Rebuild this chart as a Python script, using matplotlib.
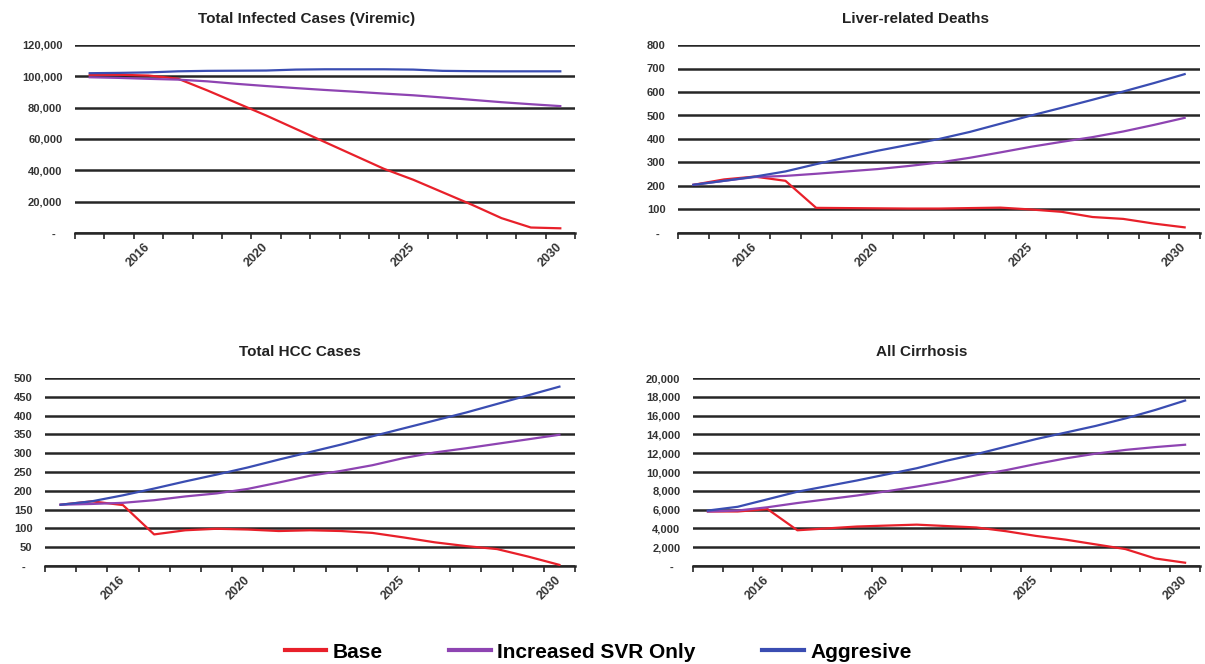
import matplotlib
matplotlib.use('Agg')
import matplotlib.pyplot as plt
from matplotlib.ticker import FuncFormatter, FixedLocator
import numpy as np

plt.rcParams['font.family'] = ['Liberation Sans', 'DejaVu Sans']

years = [2014, 2015, 2016, 2017, 2018, 2019, 2020, 2021, 2022, 2023, 2024, 2025, 2026, 2027, 2028, 2029, 2030]
year_labels = [2016, 2020, 2025, 2030]
series_names = ['Base', 'Increased SVR Only', 'Aggresive']

# Total Infected Cases (Viremic)
base_inf = [101000, 101000, 100500, 98500, 91000, 83000, 75000, 66500, 58000, 49500, 41000, 34000, 26000, 18000, 9500, 3500, 3000]
svr_inf = [99400, 99000, 98400, 97900, 96800, 95200, 93800, 92500, 91300, 90200, 89000, 87900, 86500, 85000, 83500, 82200, 81000]
agg_inf = [102000, 102200, 102500, 103200, 103500, 103600, 103700, 104300, 104500, 104500, 104500, 104300, 103500, 103300, 103200, 103200, 103200]

# Liver-related Deaths
base_ld = [205, 228, 240, 222, 107, 106, 105, 104, 104, 106, 108, 100, 90, 68, 60, 40, 24]
svr_ld = [205, 222, 238, 243, 252, 262, 272, 285, 300, 320, 343, 367, 388, 408, 432, 460, 490]
agg_ld = [205, 222, 240, 262, 293, 322, 350, 375, 400, 430, 465, 500, 533, 567, 602, 638, 676]

# Total HCC Cases
base_hcc = [163, 172, 162, 84, 95, 99, 97, 93, 95, 93, 88, 76, 63, 53, 45, 25, 3]
svr_hcc = [163, 165, 168, 175, 185, 193, 205, 222, 240, 253, 268, 287, 302, 313, 325, 337, 349]
agg_hcc = [163, 172, 188, 206, 225, 243, 262, 283, 303, 323, 345, 366, 387, 408, 431, 454, 477]

# All Cirrhosis
base_cir = [5800, 5800, 6050, 3800, 4000, 4200, 4300, 4400, 4250, 4100, 3700, 3200, 2800, 2300, 1800, 800, 350]
svr_cir = [5800, 5900, 6250, 6700, 7100, 7500, 7950, 8450, 9000, 9650, 10200, 10850, 11450, 11950, 12350, 12650, 12900]
agg_cir = [5900, 6300, 7100, 7900, 8500, 9100, 9750, 10400, 11200, 11900, 12700, 13500, 14200, 14900, 15700, 16600, 17600]

colors = ['#e8202a', '#8e44b2', '#3a4db2']

W, H = 1205, 664
fig = plt.figure(figsize=(W / 100, H / 100), dpi=100)

def box(l, r, t, b):
    return [l / W, 1 - b / H, (r - l) / W, (b - t) / H]

panels = [
    ('Total Infected Cases (Viremic)', box(75, 575, 45, 233), 120000, 20000, (307, 19), [base_inf, svr_inf, agg_inf]),
    ('Liver-related Deaths', box(678, 1200, 45, 233), 800, 100, (915, 19), [base_ld, svr_ld, agg_ld]),
    ('Total HCC Cases', box(45, 575, 378, 566), 500, 50, (300, 352), [base_hcc, svr_hcc, agg_hcc]),
    ('All Cirrhosis', box(693, 1200, 378, 566), 20000, 2000, (922, 352), [base_cir, svr_cir, agg_cir]),
]

def yfmt(v, pos):
    if abs(v) < 1e-9:
        return '-  '
    return '{:,.0f}'.format(v)

handles = []
for title, rect, ymax, ystep, tpos, data in panels:
    ax = fig.add_axes(rect)
    for i in range(len(data)):
        h, = ax.plot(years, data[i], color=colors[i], lw=1.6, label=series_names[i], zorder=3)
        if len(handles) < 3:
            handles.append(h)
    ax.set_xlim(years[0] - 0.5, years[-1] + 0.5)
    ax.set_ylim(0, ymax)
    ax.set_yticks(np.arange(0, ymax + ystep / 2, ystep))
    ax.yaxis.set_major_formatter(FuncFormatter(yfmt))
    ax.grid(axis='y', color='#262626', lw=1.8, zorder=1)
    ax.set_axisbelow(True)
    for s in ['top', 'left', 'right']:
        ax.spines[s].set_visible(False)
    ax.spines['bottom'].set_color('#262626')
    ax.spines['bottom'].set_linewidth(1.8)
    ax.xaxis.set_major_locator(FixedLocator(year_labels))
    ax.xaxis.set_minor_locator(FixedLocator(np.arange(years[0] - 0.5, years[-1] + 1, 1)))
    ax.tick_params(axis='x', which='major', length=0, pad=9)
    ax.tick_params(axis='x', which='minor', length=4, width=1.2, color='#262626')
    ax.tick_params(axis='y', length=0, pad=9)
    for lab in ax.get_xticklabels():
        lab.set_rotation(45)
        lab.set_ha('right')
        lab.set_va('center')
        lab.set_rotation_mode('anchor')
        lab.set_fontsize(9)
        lab.set_fontweight('bold')
        lab.set_color('#333333')
    for lab in ax.get_yticklabels():
        lab.set_fontsize(8)
        lab.set_fontweight('bold')
        lab.set_color('#333333')
    fig.text(tpos[0] / W, 1 - tpos[1] / H, title, ha='center', va='center',
             fontsize=11, fontweight='bold', color='#222222')

fig.legend(handles, series_names, loc='center', bbox_to_anchor=(598 / W, 1 - 652 / H), ncol=3,
           frameon=False, handlelength=2.0, handletextpad=0.3, columnspacing=3.2,
           prop={'size': 15, 'weight': 'bold'})
for h in fig.legends[0].get_lines():
    h.set_linewidth(3)

fig.savefig('out.png', dpi=100)
